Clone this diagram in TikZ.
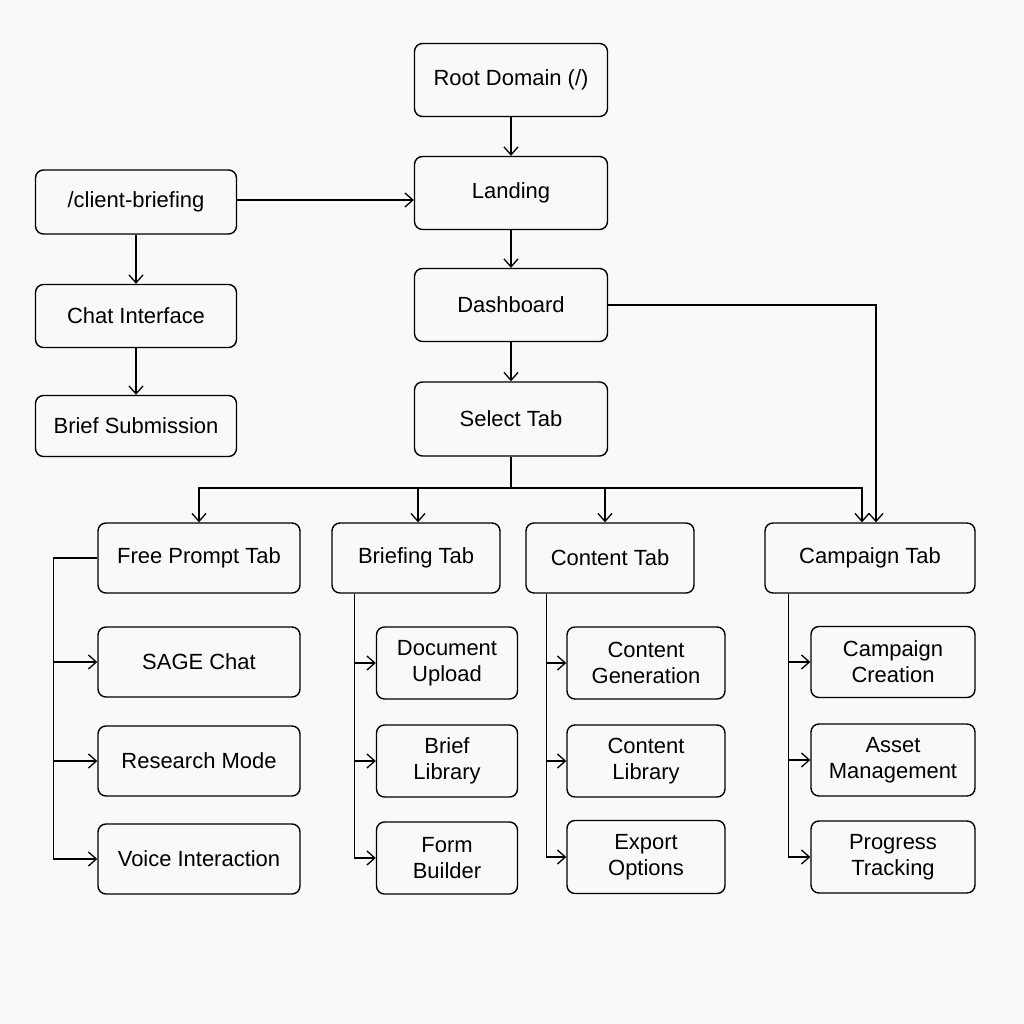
\documentclass[tikz,border=0pt]{standalone}
\usepackage{fontspec}
\setmainfont{Liberation Sans}
\usetikzlibrary{arrows.meta,calc}

\tikzset{
	box/.style={draw,rounded corners=4.5pt,line width=0.8pt,align=center,inner sep=2pt,
		font=\fontsize{12.5}{14.7}\selectfont},
	arr/.style={-{Straight Barb[length=4.5pt,width=8pt]},line width=0.75pt},
	ln/.style={line width=0.75pt}
}

\begin{document}
\begin{tikzpicture}[x=0.02cm,y=-0.02cm]
	%background
	\fill[fill={rgb,255:red,249;green,249;blue,249}] (0,0) rectangle (1024,1024);
	\useasboundingbox (0,0) rectangle (1024,1024);
	
	%main column
	\node[box,minimum width=3.86cm,minimum height=1.46cm] (root)    at (511,80)  {Root Domain (/)};
	\node[box,minimum width=3.86cm,minimum height=1.46cm] (landing) at (511,193) {Landing};
	\node[box,minimum width=3.86cm,minimum height=1.46cm] (dash)    at (511,305) {Dashboard};
	\node[box,minimum width=3.86cm,minimum height=1.48cm] (select)  at (511,419) {Select Tab};
	
	%client briefing column
	\node[box,minimum width=4.02cm,minimum height=1.28cm] (client) at (136,202) {/client-briefing};
	\node[box,minimum width=4.02cm,minimum height=1.26cm] (chat)   at (136,316) {Chat Interface};
	\node[box,minimum width=4.02cm,minimum height=1.22cm] (brief)  at (136,426) {Brief Submission};
	
	%tabs
	\node[box,minimum width=4.04cm,minimum height=1.40cm] (free)     at (199,558) {Free Prompt Tab};
	\node[box,minimum width=3.36cm,minimum height=1.40cm] (brieftab) at (416,558) {Briefing Tab};
	\node[box,minimum width=3.36cm,minimum height=1.40cm] (conttab)  at (610,558) {Content Tab};
	\node[box,minimum width=4.20cm,minimum height=1.40cm] (camptab)  at (870,558) {Campaign Tab};
	
	%free prompt children
	\node[box,minimum width=4.04cm,minimum height=1.40cm] (sage)     at (199,662) {SAGE Chat};
	\node[box,minimum width=4.04cm,minimum height=1.40cm] (research) at (199,761) {Research Mode};
	\node[box,minimum width=4.04cm,minimum height=1.40cm] (voice)    at (199,859) {Voice Interaction};
	
	%briefing children
	\node[box,minimum width=2.82cm,minimum height=1.44cm] (docup)   at (447,663) {Document\\Upload};
	\node[box,minimum width=2.82cm,minimum height=1.44cm] (brieflib) at (447,761) {Brief\\Library};
	\node[box,minimum width=2.82cm,minimum height=1.44cm] (form)    at (447,858) {Form\\Builder};
	
	%content children
	\node[box,minimum width=3.16cm,minimum height=1.44cm] (contgen) at (646,663) {Content\\Generation};
	\node[box,minimum width=3.16cm,minimum height=1.44cm] (contlib) at (646,761) {Content\\Library};
	\node[box,minimum width=3.16cm,minimum height=1.46cm] (export)  at (646,857) {Export\\Options};
	
	%campaign children
	\node[box,minimum width=3.28cm,minimum height=1.42cm] (campcre) at (893,662) {Campaign\\Creation};
	\node[box,minimum width=3.28cm,minimum height=1.44cm] (asset)   at (893,760) {Asset\\Management};
	\node[box,minimum width=3.28cm,minimum height=1.44cm] (progress) at (893,857) {Progress\\Tracking};
	
	%arrows - top
	\draw[arr] (root) -- (landing);
	\draw[arr] (landing) -- (dash);
	\draw[arr] (dash) -- (select);
	\draw[arr] ([yshift=0.04cm]client.east) -- ([yshift=0.04cm]client.east -| landing.west);
	\draw[arr] (client) -- (chat);
	\draw[arr] (chat) -- (brief);
	
	%arrows - tab bus
	\coordinate (bus) at (511,488);
	\draw[ln] (select) -- (bus);
	\draw[arr] (bus) -| (free.north);
	\draw[arr] (bus) -| ([xshift=0.04cm]brieftab.north);
	\draw[arr] (bus) -| ([xshift=-0.1cm]conttab.north);
	\draw[arr] (bus) -| ([xshift=-0.16cm]camptab.north);
	\draw[arr] (dash.east) -| ([xshift=0.12cm]camptab.north);
	
	%arrows - children
	\coordinate (fl) at ([xshift=-0.88cm]free.west);
	\draw[arr] (free.west) -- (fl) |- (voice.west);
	\draw[arr] (fl |- sage.west) -- (sage.west);
	\draw[arr] (fl |- research.west) -- (research.west);
	%
	\coordinate (bl) at ([xshift=0.46cm]brieftab.south west);
	\draw[arr] (bl) |- (form.west);
	\draw[arr] (bl |- docup.west) -- (docup.west);
	\draw[arr] (bl |- brieflib.west) -- (brieflib.west);
	%
	\coordinate (cl) at ([xshift=0.42cm]conttab.south west);
	\draw[arr] (cl) |- (export.west);
	\draw[arr] (cl |- contgen.west) -- (contgen.west);
	\draw[arr] (cl |- contlib.west) -- (contlib.west);
	%
	\coordinate (pl) at ([xshift=0.48cm]camptab.south west);
	\draw[arr] (pl) |- (progress.west);
	\draw[arr] (pl |- campcre.west) -- (campcre.west);
	\draw[arr] (pl |- asset.west) -- (asset.west);
\end{tikzpicture}
\end{document}
